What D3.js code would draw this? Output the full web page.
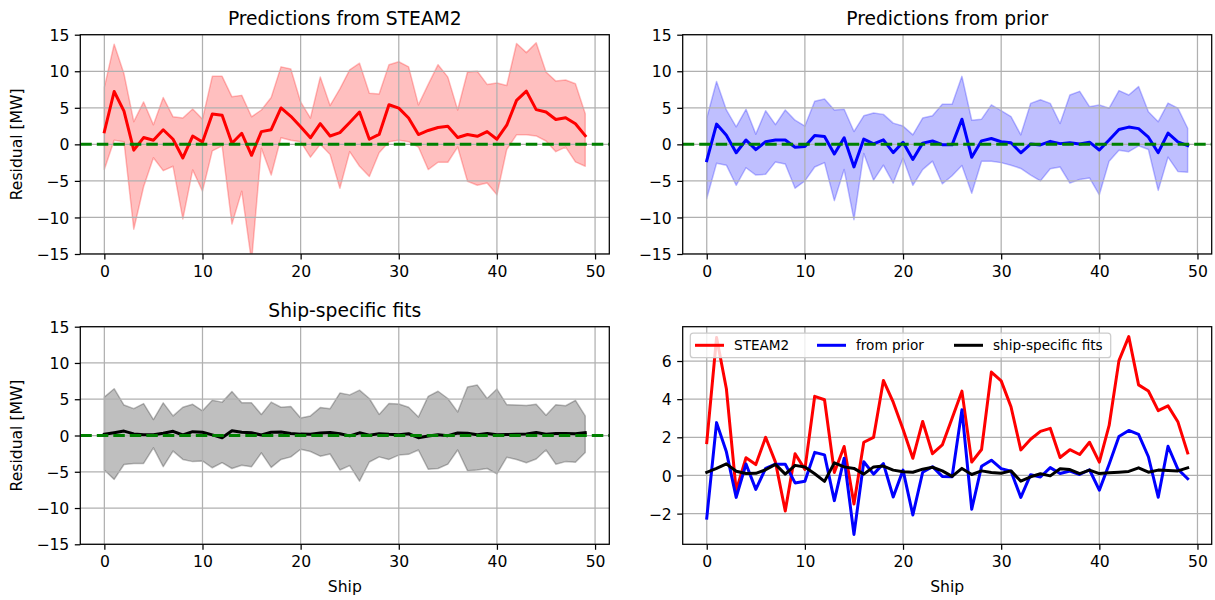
<!DOCTYPE html>
<html>
<head>
<meta charset="utf-8">
<script src="https://cdn.jsdelivr.net/npm/d3@7"></script>
<style>
  html, body { margin: 0; padding: 0; background: #ffffff; }
  svg { display: block; font-family: "DejaVu Sans", sans-serif; }
</style>
</head>
<body>
<svg id="chart" width="1215" height="600"></svg>
<script>
// ---------------- data ----------------
const ships = d3.range(50);

const steam2Mean = [1.72, 7.23, 4.55, -0.8, 0.93, 0.57, 2.0, 0.7, -1.86, 1.14, 0.32, 4.15, 3.97, 0.16, 1.52, -1.5, 1.74, 2.0, 4.98, 3.84, 2.42, 0.9, 2.83, 1.14, 1.6, 3.0, 4.42, 0.7, 1.36, 5.42, 4.96, 3.6, 1.34, 1.9, 2.31, 2.47, 0.94, 1.35, 1.1, 1.74, 0.7, 2.62, 6.02, 7.28, 4.75, 4.43, 3.4, 3.65, 2.82, 1.18];
const steam2Upper = [7.8, 13.7, 9.65, 3.1, 5.8, 2.67, 6.4, 3.77, 3.6, 4.83, 3.45, 9.3, 9.3, 6.5, 6.7, 3.77, 4.7, 6.4, 10.6, 10.3, 5.8, 3.6, 9.2, 5.3, 7.6, 10.2, 11.1, 7.0, 6.9, 10.9, 11.3, 10.6, 5.4, 8.2, 10.9, 9.2, 4.7, 9.9, 10.0, 8.2, 8.4, 8.05, 13.8, 12.55, 13.9, 9.9, 8.65, 8.8, 8.3, 4.2];
const steam2Lower = [-3.45, 0.55, 0.37, -11.6, -5.8, -1.84, -3.6, -3.0, -10.2, -3.5, -6.4, -0.9, -0.2, -10.9, -6.4, -16, -0.55, -4.2, 0.9, 0.55, 0.37, -1.75, 0, -1.4, -6.0, -1.0, -3.0, -4.4, -1.15, 0.37, 0.55, 0.37, -0.37, -3.45, -2.45, -2.45, -0.37, -5.05, -5.6, -5.3, -6.9, -0.7, 1.3, 1.3, 1.15, 0.46, -1.0, -0.37, -2.4, -3.0];

const priorMean = [-2.24, 2.77, 1.24, -1.15, 0.6, -0.73, 0.37, 0.59, 0.59, -0.39, -0.3, 1.21, 1.08, -1.32, 0.9, -3.09, 0.72, 0.07, 0.62, -1.13, 0.28, -2.07, 0.17, 0.46, -0.05, -0.07, 3.44, -1.77, 0.48, 0.8, 0.36, 0.22, -1.15, 0.04, -0.08, 0.41, 0.1, 0.23, 0.05, 0.3, -0.77, 0.59, 2.04, 2.36, 2.15, 0.98, -1.14, 1.53, 0.33, -0.17];
const priorUpper = [3.6, 8.6, 4.7, 2.4, 4.8, 1.4, 4.6, 2.7, 4.7, 3.3, 2.5, 5.9, 6.2, 4.7, 4.8, 1.75, 3.9, 4.3, 4.1, 2.9, 2.5, 1.3, 3.6, 3.9, 5.5, 5.5, 9.3, 3.3, 3.45, 5.4, 4.6, 3.8, 1.3, 5.6, 6.1, 5.6, 2.85, 6.75, 7.25, 5.15, 5.4, 4.95, 7.35, 6.75, 7.9, 4.45, 3.1, 5.65, 4.95, 2.2];
const priorLower = [-7.4, -2.6, -2.85, -5.6, -3.2, -4.2, -4.1, -2.4, -2.7, -6.0, -5.0, -3.1, -2.5, -7.7, -3.45, -10.3, -1.25, -4.9, -2.85, -5.3, -1.9, -5.6, -3.45, -2.3, -5.4, -4.3, -2.9, -6.7, -2.3, -2.3, -2.5, -2.85, -3.3, -4.2, -5.0, -3.35, -3.1, -5.3, -4.8, -4.6, -6.9, -2.3, -0.8, -1.0, -0.2, -0.7, -6.3, -1.75, -3.7, -3.8];

const shipMean = [0.16, 0.37, 0.61, 0.22, 0.1, 0.11, 0.3, 0.58, 0.07, 0.53, 0.44, 0.09, -0.31, 0.66, 0.45, 0.37, 0.07, 0.45, 0.49, 0.28, 0.19, 0.17, 0.33, 0.43, 0.24, -0.05, 0.37, 0.05, 0.24, 0.16, 0.12, 0.24, -0.3, -0.07, 0.09, -0.02, 0.35, 0.31, 0.1, 0.28, 0.1, 0.14, 0.17, 0.21, 0.4, 0.17, 0.28, 0.26, 0.24, 0.4];
const shipUpper = [5.3, 6.45, 4.2, 3.7, 4.4, 2.2, 4.5, 2.7, 3.9, 4.3, 3.4, 4.85, 4.6, 6.05, 4.5, 4.5, 2.9, 4.6, 3.9, 4.0, 2.4, 2.7, 3.85, 3.7, 5.85, 5.6, 6.25, 5.1, 2.9, 4.4, 4.35, 3.9, 2.55, 5.4, 6.1, 5.1, 3.25, 6.7, 6.95, 5.1, 6.4, 4.25, 4.2, 4.15, 4.3, 2.8, 4.25, 4.1, 4.85, 2.7];
const shipLower = [-4.75, -6.05, -4.0, -3.85, -3.85, -1.7, -4.3, -2.15, -3.3, -3.6, -3.5, -4.45, -3.75, -4.55, -4.1, -4.3, -2.4, -4.4, -3.3, -2.95, -1.9, -2.2, -2.85, -2.55, -4.75, -4.15, -6.3, -3.65, -2.95, -3.3, -2.7, -2.6, -2.0, -4.65, -4.55, -3.95, -2.0, -4.85, -4.75, -4.55, -5.3, -3.0, -3.3, -3.75, -3.25, -2.0, -3.95, -3.6, -3.7, -2.35];

const titles = ["Predictions from STEAM2", "Predictions from prior", "Ship-specific fits", ""];
const legendLabels = ["STEAM2", "from prior", "ship-specific fits"];
const xTicks = [0, 10, 20, 30, 40, 50];
const bandYTicks = [-15, -10, -5, 0, 5, 10, 15];
const compareYTicks = [-2, 0, 2, 4, 6];
const yLabel = "Residual [MW]";
const xLabel = "Ship";

// ---------------- layout ----------------
const svg = d3.select("#chart");
const colL = [80.3, 609.3], colR = [682.7, 1211.7];
const rowT = [34.7, 254], rowB = [326.7, 544.3];
const GRID = "#b0b0b0";
const TICK_FS = 15.6;
const fmt = v => (v < 0 ? "\u2212" + Math.abs(v) : String(v));

let clipId = 0;
function makeAxes(cols, rows, yDomain, yTicks, opts) {
  const x = d3.scaleLinear().domain([-2.45, 51.45]).range(cols);
  const y = d3.scaleLinear().domain(yDomain).range([rows[1], rows[0]]);
  const g = svg.append("g");
  const id = "clip" + (clipId++);
  g.append("clipPath").attr("id", id).append("rect")
    .attr("x", cols[0]).attr("y", rows[0])
    .attr("width", cols[1] - cols[0]).attr("height", rows[1] - rows[0]);
  const plot = g.append("g").attr("clip-path", `url(#${id})`);
  const bandLayer = plot.append("g");
  const gridLayer = plot.append("g");
  const lineLayer = plot.append("g");

  // grid
  gridLayer.selectAll("line.gx").data(xTicks).join("line")
    .attr("x1", d => x(d)).attr("x2", d => x(d))
    .attr("y1", rows[0]).attr("y2", rows[1])
    .attr("stroke", GRID).attr("stroke-width", 1.25);
  gridLayer.selectAll("line.gy").data(yTicks).join("line")
    .attr("class", "gy")
    .attr("x1", cols[0]).attr("x2", cols[1])
    .attr("y1", d => y(d)).attr("y2", d => y(d))
    .attr("stroke", GRID).attr("stroke-width", 1.25);

  // axes with d3
  const xAxis = d3.axisBottom(x).tickValues(xTicks).tickFormat(fmt).tickSizeInner(5.5).tickSizeOuter(0).tickPadding(5.5);
  const yAxis = d3.axisLeft(y).tickValues(yTicks).tickFormat(fmt).tickSizeInner(5.5).tickSizeOuter(0).tickPadding(5.5);
  const gx = g.append("g").attr("transform", `translate(0,${rows[1]})`).call(xAxis);
  const gy = g.append("g").attr("transform", `translate(${cols[0]},0)`).call(yAxis);
  [gx, gy].forEach(a => {
    a.select(".domain").remove();
    a.selectAll(".tick line").attr("stroke", "#000").attr("stroke-width", 1.25);
    a.selectAll(".tick text").attr("fill", "#000")
      .attr("font-family", "DejaVu Sans").attr("font-size", TICK_FS);
  });
  gx.selectAll(".tick text").attr("dy", "0.78em");
  gy.selectAll(".tick text").attr("dy", "0.36em");

  // frame
  g.append("rect").attr("x", cols[0]).attr("y", rows[0])
    .attr("width", cols[1] - cols[0]).attr("height", rows[1] - rows[0])
    .attr("fill", "none").attr("stroke", "#000").attr("stroke-width", 1.25);

  if (opts.title) {
    g.append("text").attr("x", (cols[0] + cols[1]) / 2).attr("y", rows[0] - 10)
      .attr("text-anchor", "middle").attr("font-size", 18.7).attr("fill", "#000")
      .text(opts.title);
  }
  if (opts.ylabel) {
    g.append("text")
      .attr("transform", `translate(${cols[0] - 58},${(rows[0] + rows[1]) / 2}) rotate(-90)`)
      .attr("text-anchor", "middle").attr("font-size", TICK_FS).attr("fill", "#000")
      .text(opts.ylabel);
  }
  if (opts.xlabel) {
    g.append("text").attr("x", (cols[0] + cols[1]) / 2).attr("y", rows[1] + 47.5)
      .attr("text-anchor", "middle").attr("font-size", TICK_FS).attr("fill", "#000")
      .text(opts.xlabel);
  }
  return { x, y, g, bandLayer, lineLayer, cols, rows };
}

function drawBand(ax, mean, lower, upper, color) {
  const area = d3.area().x((d, i) => ax.x(ships[i])).y0((d, i) => ax.y(lower[i])).y1((d, i) => ax.y(upper[i]));
  ax.bandLayer.append("path").datum(mean).attr("d", area)
    .attr("fill", color).attr("fill-opacity", 0.25)
    .attr("stroke", color).attr("stroke-opacity", 0.25).attr("stroke-width", 1.5)
    .attr("stroke-linejoin", "round");
}
function drawLine(ax, values, color) {
  const line = d3.line().x((d, i) => ax.x(ships[i])).y(d => ax.y(d));
  ax.lineLayer.append("path").datum(values).attr("d", line)
    .attr("fill", "none").attr("stroke", color).attr("stroke-width", 3)
    .attr("stroke-linejoin", "round").attr("stroke-linecap", "square");
}
function drawZero(ax) {
  ax.lineLayer.append("line")
    .attr("x1", ax.cols[0]).attr("x2", ax.cols[1])
    .attr("y1", ax.y(0)).attr("y2", ax.y(0))
    .attr("stroke", "#008000").attr("stroke-width", 3)
    .attr("stroke-dasharray", "11.5,5");
}

// Panel 1: STEAM2
const a1 = makeAxes(colL, rowT, [-15, 15], bandYTicks, { title: titles[0], ylabel: yLabel });
drawBand(a1, steam2Mean, steam2Lower, steam2Upper, "#ff0000");
drawLine(a1, steam2Mean, "#ff0000");
drawZero(a1);

// Panel 2: prior
const a2 = makeAxes(colR, rowT, [-15, 15], bandYTicks, { title: titles[1] });
drawBand(a2, priorMean, priorLower, priorUpper, "#0000ff");
drawLine(a2, priorMean, "#0000ff");
drawZero(a2);

// Panel 3: ship-specific
const a3 = makeAxes(colL, rowB, [-15, 15], bandYTicks, { title: titles[2], ylabel: yLabel, xlabel: xLabel });
drawBand(a3, shipMean, shipLower, shipUpper, "#000000");
drawLine(a3, shipMean, "#000000");
drawZero(a3);

// Panel 4: comparison
const all = steam2Mean.concat(priorMean, shipMean);
const lo = d3.min(all), hi = d3.max(all), pad = (hi - lo) * 0.05;
const a4 = makeAxes(colR, rowB, [lo - pad, hi + pad], compareYTicks, { xlabel: xLabel });
const seriesColors = ["#ff0000", "#0000ff", "#000000"];
[steam2Mean, priorMean, shipMean].forEach((s, k) => drawLine(a4, s, seriesColors[k]));

// legend
const leg = a4.g.append("g");
leg.append("rect").attr("x", 690.3).attr("y", 333).attr("width", 420.4).attr("height", 24.7)
  .attr("rx", 3).attr("fill", "#ffffff").attr("fill-opacity", 0.8)
  .attr("stroke", "#cccccc").attr("stroke-width", 1.25);
const legX = [695, 817, 954];
legendLabels.forEach((lab, k) => {
  leg.append("line").attr("x1", legX[k]).attr("x2", legX[k] + 29)
    .attr("y1", 345.3).attr("y2", 345.3)
    .attr("stroke", seriesColors[k]).attr("stroke-width", 3);
  leg.append("text").attr("x", legX[k] + 39).attr("y", 345.3).attr("dy", "0.36em")
    .attr("font-size", 13.6).attr("fill", "#000").text(lab);
});
</script>
</body>
</html>
